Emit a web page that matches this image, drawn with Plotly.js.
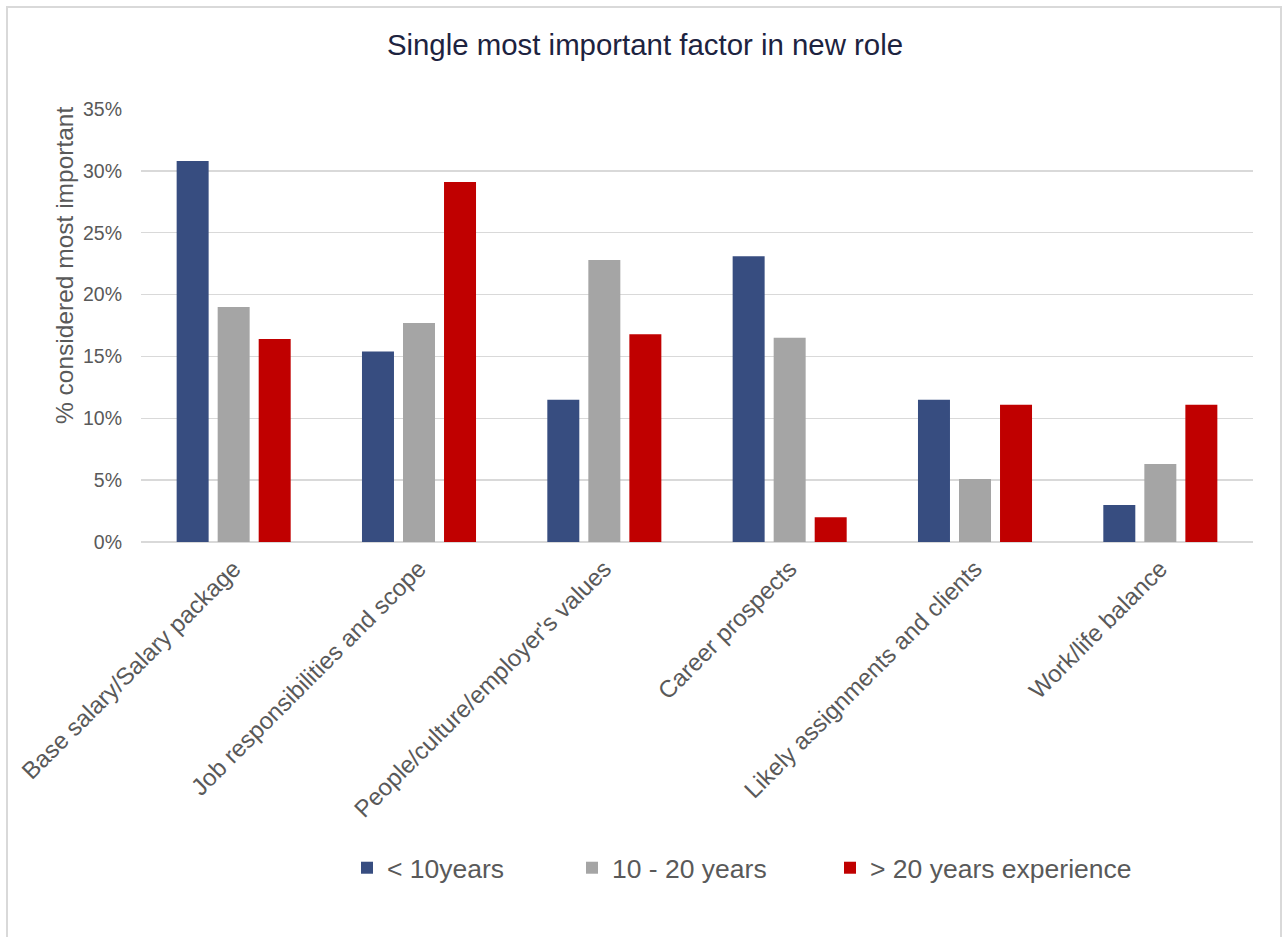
<!DOCTYPE html>
<html>
<head>
<meta charset="utf-8">
<script src="https://cdn.plot.ly/plotly-3.0.1.min.js"></script>
<style>
  html, body { margin: 0; padding: 0; background: #fff; }
  #wrap { position: relative; width: 1284px; height: 937px; overflow: hidden; }
  #chart { position: absolute; left: 0; top: 0; width: 1284px; height: 937px; }
  #frame { position: absolute; left: 6px; top: 6px; width: 1272px; height: 960px;
           border: 2px solid #d9d9d9; pointer-events: none; }
</style>
</head>
<body>
<div id="wrap">
  <div id="chart"></div>
  <div id="frame"></div>
</div>
<script>
const categories = [
  "Base salary/Salary package",
  "Job responsibilities and scope",
  "People/culture/employer's values",
  "Career prospects",
  "Likely assignments and clients",
  "Work/life balance"
];
const seriesNames = ["< 10years", "10 - 20 years", "> 20 years experience"];
const under10 = [30.8, 15.4, 11.5, 23.1, 11.5, 3.0];
const from10to20 = [19.0, 17.7, 22.8, 16.5, 5.1, 6.3];
const over20 = [16.4, 29.1, 16.8, 2.0, 11.1, 11.1];
const colors = ["#374D80", "#A5A5A5", "#C00000"];
const yAxisTitle = "% considered most important";

const FONT = "Liberation Sans, Arial, sans-serif";
const values = [under10, from10to20, over20];
const legendIds = ["legend", "legend2", "legend3"];

const traces = values.map((v, i) => ({
  type: "bar",
  name: seriesNames[i],
  x: categories,
  y: v,
  marker: { color: colors[i], line: { width: 0 } },
  legend: legendIds[i],
  hoverinfo: "x+y+name"
}));

const legendBase = {
  orientation: "h",
  xref: "container", yref: "container",
  yanchor: "middle", xanchor: "left",
  y: 1 - 868 / 937,
  bgcolor: "rgba(0,0,0,0)",
  borderwidth: 0,
  font: { family: FONT, size: 26.5, color: "#595959" }
};

const layout = {
  width: 1284, height: 937,
  paper_bgcolor: "#ffffff", plot_bgcolor: "#ffffff",
  margin: { l: 141, r: 31, t: 109, b: 395, autoexpand: false },
  font: { family: FONT, color: "#595959" },
  title: {
    text: "Single most important factor in new role",
    font: { family: FONT, size: 29.4, color: "#1d2340" },
    xref: "container", x: 645 / 1284, xanchor: "center",
    yref: "container", y: 1 - 45 / 937, yanchor: "middle"
  },
  barmode: "group",
  bargap: 0.336,
  bargroupgap: 0.22,
  xaxis: {
    type: "category",
    tickangle: -45,
    tickfont: { family: FONT, size: 24, color: "#595959" },
    showgrid: false, zeroline: false,
    showline: false, ticks: "",
    ticklabelstandoff: 7,
    automargin: false
  },
  yaxis: {
    range: [0, 35], dtick: 5,
    ticksuffix: "%",
    tickfont: { family: FONT, size: 19.5, color: "#595959" },
    showgrid: true, gridcolor: "#d9d9d9", gridwidth: 1.5,
    zeroline: true, zerolinecolor: "#d9d9d9", zerolinewidth: 1.5,
    showline: false, ticks: "",
    ticklabelstandoff: 18,
    automargin: false
  },
  annotations: [{
    text: yAxisTitle,
    xref: "paper", yref: "paper",
    x: (64 - 141) / 1112, y: (542 - 266) / 433,
    xanchor: "center", yanchor: "middle",
    textangle: -90, showarrow: false,
    font: { family: FONT, size: 24.5, color: "#595959" }
  }],
  legend: Object.assign({}, legendBase, { x: 347 / 1284 }),
  legend2: Object.assign({}, legendBase, { x: 572 / 1284 }),
  legend3: Object.assign({}, legendBase, { x: 830 / 1284 }),
  showlegend: true
};

Plotly.newPlot("chart", traces, layout, { displayModeBar: false, staticPlot: true });
</script>
</body>
</html>
